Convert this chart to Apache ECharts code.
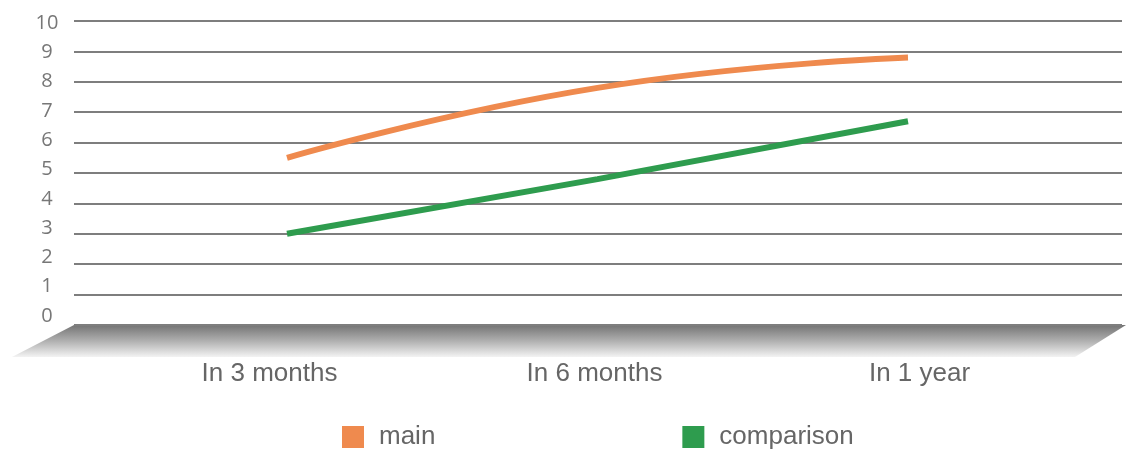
<!DOCTYPE html>
<html><head><meta charset="utf-8">
<script src="https://cdn.jsdelivr.net/npm/echarts@6/dist/echarts.min.js"></script>
<style>html,body{margin:0;padding:0;background:#fff}#c{width:1126px;height:461px}</style>
</head><body><div id="c"></div>
<script>
const categories = ['In 3 months', 'In 6 months', 'In 1 year'];
const mainValues = [5.5, 7.8, 8.8];
const comparisonValues = [3.0, 4.8, 6.7];
const yTickLabels = ['0','1','2','3','4','5','6','7','8','9','10'];
const seriesNames = ['main', 'comparison'];
const seriesColors = ['#EF8A4E', '#2E9C4E'];

const chart = echarts.init(document.getElementById('c'));
const hidden = {show: false};
chart.setOption({
  animation: false,
  backgroundColor: '#ffffff',
  graphic: [{
    type: 'polygon', z: 0, silent: true,
    shape: {points: [[74, 325], [1126, 325], [1075, 357], [12, 357]]},
    style: {fill: {type: 'linear', x: 0, y: 0, x2: 0, y2: 1,
      colorStops: [{offset: 0, color: '#747474'}, {offset: 0.5, color: '#b0b0b0'}, {offset: 1, color: '#f3f3f3'}]}}
  }],
  grid: [
    {left: 74, right: 4, top: 21, height: 304},
    {left: 287, right: 218, top: 21, height: 304},
    {left: 107, right: 44, top: 23, height: 293}
  ],
  xAxis: [
    {gridIndex: 0, type: 'value', min: 0, max: 1, show: false},
    {gridIndex: 1, type: 'category', data: categories, boundaryGap: false, show: false},
    {gridIndex: 2, type: 'category', data: categories, boundaryGap: true,
      axisLine: hidden, axisTick: hidden, splitLine: hidden,
      axisLabel: {margin: 45, fontSize: 26, color: '#666666', fontFamily: 'Liberation Sans, Arial, sans-serif'}}
  ],
  yAxis: [
    {gridIndex: 0, type: 'value', min: 0, max: 10, interval: 1,
      axisLine: hidden, axisTick: hidden, axisLabel: hidden,
      splitLine: {show: true, lineStyle: {color: '#7e7e7e', width: 2}}},
    {gridIndex: 1, type: 'value', min: 0, max: 10, interval: 1, show: false, splitLine: hidden},
    {gridIndex: 2, type: 'value', min: 0, max: 10, interval: 1,
      axisLine: hidden, axisTick: hidden, splitLine: hidden,
      axisLabel: {margin: 60, align: 'center', fontSize: 20, color: '#777777', fontFamily: 'Open Sans, sans-serif',
        formatter: v => yTickLabels[Math.round(v)]}}
  ],
  legend: {
    left: 342, top: 424, padding: 0, icon: 'rect', itemWidth: 22, itemHeight: 22, itemGap: 247,
    data: seriesNames,
    textStyle: {fontSize: 26, color: '#666666', fontFamily: 'Liberation Sans, Arial, sans-serif', padding: [0, 0, 0, 10]}
  },
  series: [
    {name: seriesNames[0], type: 'line', xAxisIndex: 1, yAxisIndex: 1, data: mainValues, smooth: true,
      symbol: 'none', color: seriesColors[0], lineStyle: {width: 6, color: seriesColors[0]}, itemStyle: {color: seriesColors[0]}, z: 5},
    {name: seriesNames[1], type: 'line', xAxisIndex: 1, yAxisIndex: 1, data: comparisonValues, smooth: true,
      symbol: 'none', color: seriesColors[1], lineStyle: {width: 6, color: seriesColors[1]}, itemStyle: {color: seriesColors[1]}, z: 5}
  ]
});
</script>
</body></html>
